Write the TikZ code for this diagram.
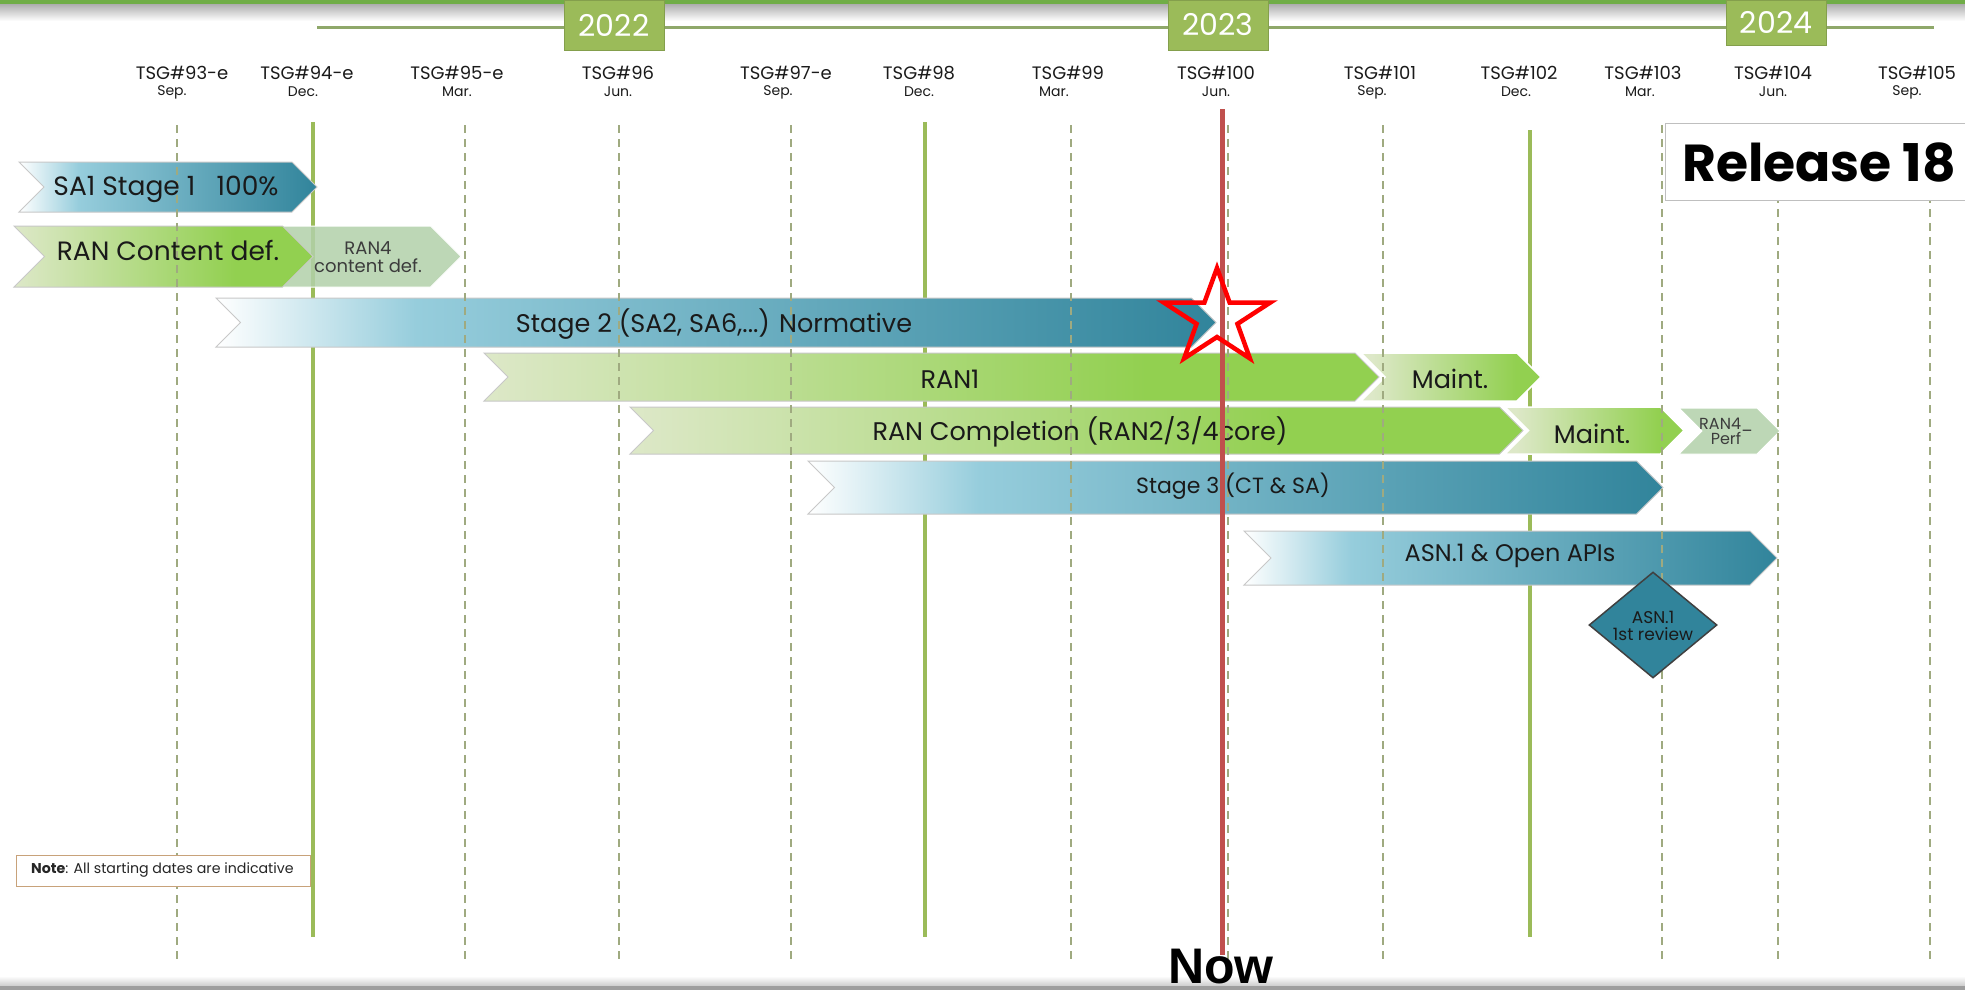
\documentclass[tikz,border=0pt]{standalone}
\usepackage{fontspec}
\setmainfont{Poppins}
\newfontfamily\arialfont{Liberation Sans}
\usetikzlibrary{shapes.geometric}

\definecolor{olivec}{HTML}{9BBB59}
\definecolor{topgreen}{HTML}{70AD47}
\definecolor{linec}{HTML}{8FA86A}
\definecolor{dashc}{HTML}{9FAA80}
\definecolor{tealc}{HTML}{31849B}
\definecolor{bluemid}{HTML}{96CDDC}
\definecolor{greenc}{HTML}{92D050}
\definecolor{greenlt}{HTML}{DDE8C8}
\definecolor{sagec}{HTML}{B2D1AA}
\definecolor{nowred}{HTML}{C0504D}
\definecolor{txtc}{HTML}{1A1A1A}
\definecolor{notec}{HTML}{C8A27A}
\definecolor{barline}{HTML}{C8C8C8}

\pgfdeclarehorizontalshading{blueshade}{100bp}{color(0bp)=(white); color(25bp)=(white); color(35bp)=(bluemid); color(75bp)=(tealc); color(100bp)=(tealc)}
\pgfdeclarehorizontalshading{greenshade}{100bp}{color(0bp)=(greenlt); color(25bp)=(greenlt); color(62bp)=(greenc); color(100bp)=(greenc)}
\pgfdeclarehorizontalshading{maintshade}{100bp}{color(0bp)=(greenlt); color(28bp)=(greenlt); color(68bp)=(greenc); color(100bp)=(greenc)}

% chevron: #1 style, #2 x-left, #3 x-tip, #4 y-top, #5 y-bottom
\newcommand\chev[5]{%
  \path[#1] (#2,#4) -- ({#3-(#5-#4)/2},#4) -- (#3,{(#4+#5)/2}) -- ({#3-(#5-#4)/2},#5)
    -- (#2,#5) -- ({#2+(#5-#4)/2},{(#4+#5)/2}) -- cycle;}

% #1 id, #2 x, #3 number, #4 month, #5 month x-offset
\newcommand\tsg[5]{%
  \node[tsgname] (t#1) at (#2,73) {TSG\##3};
  \node[tsgmonth] (m#1) at ({#2+#5},92) {#4};}

\tikzset{
  tsgname/.style={font=\fontsize{18}{20}\selectfont, text=txtc, inner sep=0pt},
  tsgmonth/.style={font=\fontsize{14}{16}\selectfont, text=txtc, inner sep=0pt},
  yearbox/.style={fill=olivec, draw=olivec!85!black, line width=0.6pt, text=white,
    font=\fontsize{30}{32}\selectfont, minimum width=100pt, inner sep=0pt},
  bluebar/.style={shade, shading=blueshade, draw=barline, line width=1pt},
  greenbar/.style={shade, shading=greenshade, draw=barline, line width=1pt},
  maintbar/.style={shade, shading=maintshade, draw=white, line width=1.5pt},
  sagebar/.style={fill=sagec, fill opacity=0.85, draw=white, line width=1pt},
  barlbl/.style={text=txtc, inner sep=0pt},
  smalll/.style={text=txtc!85, inner sep=0pt, align=center},
  dashline/.style={draw=dashc, line width=2.5pt, dash pattern=on 8pt off 6pt},
  solidline/.style={draw=olivec, line width=4.5pt},
  starline/.style={draw=red, line width=4.5pt, line join=miter},
}

\begin{document}
\begin{tikzpicture}[x=1pt,y=-1pt]
\useasboundingbox (0,0) rectangle (1965,990);
\fill[white] (0,0) rectangle (1965,990);

% top strip
\shade[top color=black!32, bottom color=white] (0,4) rectangle (1965,21);
\fill[topgreen] (0,0) rectangle (1965,4);
% bottom shadow
\shade[top color=white, bottom color=black!18] (0,976) rectangle (1965,985);

% timeline
\coordinate (tl0) at (317,28);
\coordinate (tl1) at (1934,28);
\draw[linec, line width=3pt] (tl0) -- (tl1);
\node[yearbox, minimum height=50pt] (y22) at (614,25) {2022};
\node[yearbox, minimum height=50pt] (y23) at (1218,25) {2023};
\node[yearbox, minimum height=45pt] (y24) at (1776,22.5) {2024};

% TSG labels
\tsg{93}{182}{93-e}{Sep.}{-10}
\tsg{94}{307}{94-e}{Dec.}{-4}
\tsg{95}{457}{95-e}{Mar.}{0}
\tsg{96}{618}{96}{Jun.}{0}
\tsg{97}{786}{97-e}{Sep.}{-8}
\tsg{98}{919}{98}{Dec.}{0}
\tsg{99}{1068}{99}{Mar.}{-14}
\tsg{100}{1216}{100}{Jun.}{0}
\tsg{101}{1380}{101}{Sep.}{-8}
\tsg{102}{1519}{102}{Dec.}{-3}
\tsg{103}{1643}{103}{Mar.}{-3}
\tsg{104}{1773}{104}{Jun.}{0}
\tsg{105}{1917}{105}{Sep.}{-10}

% solid year lines
\foreach \x/\a/\b in {313/122/937, 925/122/937, 1530/130/937}{
  \coordinate (sa\x) at (\x,\a);
  \coordinate (sb\x) at (\x,\b);
  \draw[solidline] (sa\x) -- (sb\x);
}

% bars
\chev{bluebar}{19}{317}{162}{212}
\chev{sagebar}{282}{461}{226}{287}
\chev{greenbar}{14}{313}{226}{287}
\chev{bluebar}{216}{1216}{298}{347}
\chev{greenbar}{484}{1379}{353}{401}
\chev{maintbar}{1361}{1541}{353}{401}
\chev{greenbar}{630}{1523}{407}{454}
\chev{maintbar}{1505}{1684}{407}{454}
\chev{sagebar}{1679}{1780}{408}{454}
\chev{bluebar}{808}{1663}{461}{514}
\chev{bluebar}{1244}{1777}{531}{585}

% dashed lines
\foreach \x in {177,465,619,791,1071,1228,1383,1662,1778,1930}{
  \coordinate (da\x) at (\x,125);
  \coordinate (db\x) at (\x,962);
  \draw[dashline] (da\x) -- (db\x);
}

% diamond
\node[diamond, minimum width=128pt, minimum height=106pt, inner sep=0pt,
  fill=tealc, draw=black!75, line width=1.5pt] (dia) at (1653,625) {};
\node[smalll, text=txtc, font=\fontsize{17}{18}\selectfont] (dialbl) at (1653,626) {ASN.1\\[-1pt]1st review};

% bar labels
\node[barlbl, font=\fontsize{26.5}{28}\selectfont] (lsa1) at (166,189) {SA1 Stage 1\ \ \ 100\%};
\node[barlbl, font=\fontsize{26.5}{28}\selectfont] (lrancd) at (168,250) {RAN Content def.};
\node[smalll, font=\fontsize{18}{19}\selectfont] (lran4) at (368,257) {RAN4\\[-1pt]content def.};
\node[barlbl, font=\fontsize{25.5}{27}\selectfont] (lst2) at (714,324) {Stage 2 (SA2, SA6,...) Normative};
\node[barlbl, font=\fontsize{25.5}{27}\selectfont] (lran1) at (950,379) {RAN1};
\node[barlbl, font=\fontsize{25.5}{27}\selectfont] (lm1) at (1450,379) {Maint.};
\node[barlbl, font=\fontsize{25.5}{27}\selectfont] (lcomp) at (1080,432) {RAN Completion (RAN2/3/4core)};
\node[barlbl, font=\fontsize{25.5}{27}\selectfont] (lm2) at (1592,434) {Maint.};
\node[smalll, font=\fontsize{16}{17}\selectfont] (lperf) at (1726,431) {RAN4\_\\[-2pt]Perf};
\node[barlbl, font=\fontsize{22}{24}\selectfont] (lst3) at (1233,486) {Stage 3 (CT \& SA)};
\node[barlbl, font=\fontsize{24}{26}\selectfont] (lasn) at (1510,556) {ASN.1 \& Open APIs};

% now line
\coordinate (nowtop) at (1222,109);
\coordinate (nowbot) at (1222,955);
\draw[nowred, line width=5pt] (nowtop) -- (nowbot);
\coordinate (starc) at (1217,318);
\draw[starline] plot[samples at={0,...,9}, variable=\k]
  ({1217+(mod(\k,2)==0 ? 56 : 21.5)*cos(-90+36*\k)},
   {318+(mod(\k,2)==0 ? 50 : 19)*sin(-90+36*\k)}) -- cycle;
\node[font=\arialfont\bfseries\fontsize{50}{50}\selectfont, anchor=base, inner sep=0pt, text=black] (now) at (1221,983) {Now};

% release box
\node[draw=black!25, fill=white, line width=1.2pt, minimum height=77pt, minimum width=320pt,
  anchor=north west, inner sep=0pt] (relbox) at (1665,123) {};
\node[font=\bfseries\fontsize{52}{54}\selectfont, anchor=west, inner sep=0pt, text=black] (rel) at (1682,162) {Release 18};

% note box
\node[draw=notec, fill=white, line width=1pt, minimum width=294pt, minimum height=31pt,
  anchor=north west, inner sep=0pt] (notebox) at (16,855) {};
\node[font=\fontsize{14.2}{16}\selectfont, text=black!85, anchor=west, inner sep=0pt] (note) at (31,870.5) {\textbf{Note}: All starting dates are indicative};

% bottom strip
\fill[black!38] (0,986) rectangle (1965,990);
\end{tikzpicture}
\end{document}
